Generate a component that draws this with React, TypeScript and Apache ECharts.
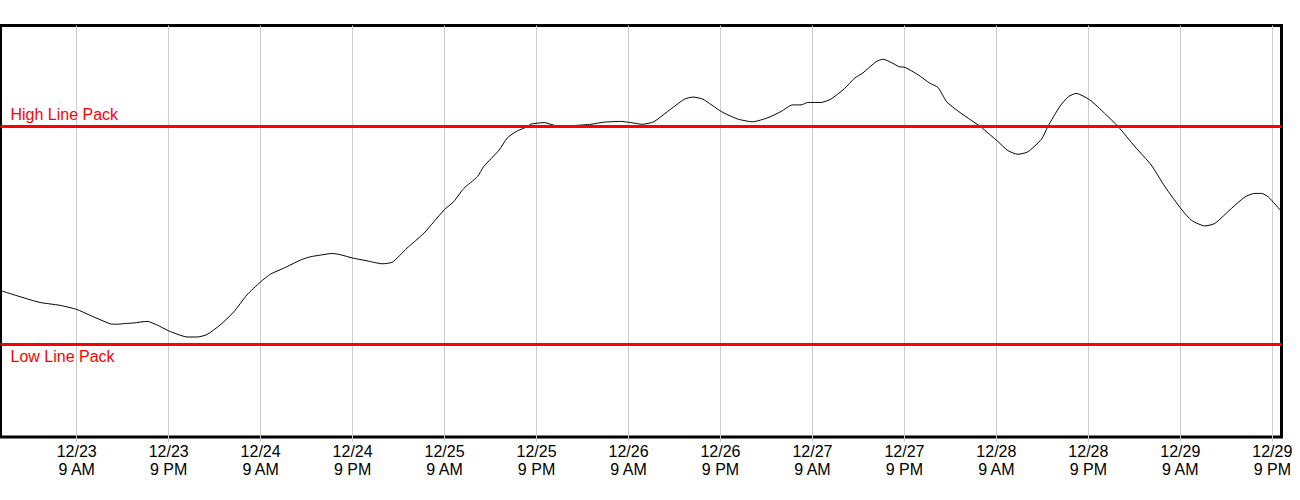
import React, { useEffect, useRef } from "react";
import * as echarts from "echarts";

// Hours since 12/23 00:00
const hours = [
  -0.8, 1.6, 4.2, 6.8, 9.0, 10.7, 13.4, 14.2, 15.5, 16.4, 18.2, 19.5, 21.0, 22.1, 23.4,
  24.7, 26.0, 27.7, 29.5, 31.2, 33.0, 34.3, 36.0, 38.2, 39.5, 40.8, 42.3, 43.4, 45.0,
  46.9, 48.9, 50.2, 52.1, 54.3, 55.6, 57.0, 58.2, 59.5, 61.3, 62.1, 64.1, 65.2, 66.5,
  67.8, 68.2, 70.0, 71.7, 73.9, 76.1, 77.8, 80.0, 81.3, 82.8, 84.3, 86.1, 88.3, 89.4,
  90.7, 93.1, 95.2, 97.2, 99.2, 100.9, 102.4, 103.5, 104.4, 106.1, 107.4, 109.2, 110.5,
  111.6, 113.3, 114.2, 115.3, 116.3, 117.1, 118.8, 120.3, 121.4, 122.5, 124.0, 125.7,
  127.0, 129.2, 130.5, 131.8, 133.1, 134.9, 135.7, 137.3, 138.4, 139.4, 141.2, 143.1,
  144.9, 147.1, 149.2, 151.0, 153.2, 154.5, 156.2, 157.5, 159.7, 161.4, 162.7, 163.6,
  164.5, 166.2,
];

const linePack = [
  35.5, 34.1, 32.7, 32.0, 31.0, 29.6, 27.5, 27.4, 27.6, 27.7, 28.1, 27.2, 25.8, 25.0, 24.3,
  24.3, 24.9, 27.2, 30.4, 34.5, 37.7, 39.6, 41.0, 43.0, 43.8, 44.2, 44.6, 44.3, 43.5,
  42.8, 42.1, 42.5, 45.9, 49.5, 52.3, 55.3, 57.2, 60.4, 63.3, 65.7, 69.7, 72.7, 74.4,
  75.4, 76.0, 76.4, 75.6, 75.7, 76.0, 76.5, 76.7, 76.4, 76.0, 76.6, 79.1, 82.1, 82.6,
  82.1, 79.1, 77.3, 76.6, 77.6, 79.1, 80.7, 80.7, 81.3, 81.3, 82.1, 84.7, 87.2,
  88.5, 91.2, 91.8, 91.0, 90.0, 89.8, 88.0, 86.0, 84.9, 81.5, 79.2, 77.0,
  75.3, 71.8, 69.6, 68.7, 69.3, 72.4, 75.4, 80.4, 82.7, 83.5, 81.9, 78.7,
  75.4, 70.5, 66.1, 60.8, 55.2, 52.6, 51.3, 51.9, 55.6, 58.3, 59.2, 59.2,
  58.3, 54.8,
];

const highLinePack = 75.4;
const lowLinePack = 22.6;

const tickHours = [9, 21, 33, 45, 57, 69, 81, 93, 105, 117, 129, 141, 153, 165];

const formatTick = (val: number) => {
  const day = 23 + Math.floor(val / 24);
  const hr = ((val % 24) + 24) % 24;
  const h12 = hr % 12 === 0 ? 12 : hr % 12;
  const ampm = hr < 12 ? "AM" : "PM";
  return `12/${day}\n${h12} ${ampm}`;
};

export default function App() {
  const ref = useRef<HTMLDivElement>(null);

  useEffect(() => {
    if (!ref.current) return;
    const chart = echarts.init(ref.current, null, { renderer: "svg" });
    const font = "'Liberation Sans', Arial, sans-serif";
    chart.setOption({
      animation: false,
      backgroundColor: "#fff",
      grid: {
        left: 0.5,
        right: 18.5,
        top: 25.5,
        bottom: 63,
        show: true,
        borderColor: "#000",
        borderWidth: 3,
        backgroundColor: "transparent",
        containLabel: false,
      },
      xAxis: {
        type: "value",
        min: -0.94,
        max: 166.2,
        axisLine: { show: false },
        axisTick: {
          show: true,
          length: 5,
          lineStyle: { color: "#cccccc", width: 1 },
          customValues: tickHours,
        },
        axisLabel: {
          show: true,
          customValues: tickHours,
          formatter: formatTick,
          color: "#000",
          fontSize: 16,
          lineHeight: 18,
          margin: 5,
          fontFamily: font,
        },
        splitLine: { show: true, lineStyle: { color: "#cccccc", width: 1 } },
      },
      yAxis: {
        type: "value",
        min: 0,
        max: 100,
        show: false,
        splitLine: { show: false },
      },
      series: [
        {
          type: "line",
          data: hours.map((h, i) => [h, linePack[i]]),
          showSymbol: false,
          symbol: "none",
          smooth: 0.2,
          lineStyle: { color: "#000", width: 1 },
          z: 3,
          markLine: {
            silent: true,
            symbol: "none",
            animation: false,
            lineStyle: { color: "#ff0000", width: 3, type: "solid" },
            data: [
              {
                yAxis: highLinePack,
                label: {
                  show: true,
                  formatter: "High Line Pack",
                  position: "insideStartTop",
                  distance: 4,
                  padding: [0, 0, 0, 6],
                  color: "#ff0000",
                  fontSize: 16,
                  fontFamily: font,
                },
              },
              {
                yAxis: lowLinePack,
                label: {
                  show: true,
                  formatter: "Low Line Pack",
                  position: "insideStartBottom",
                  distance: 4,
                  padding: [0, 0, 0, 6],
                  color: "#ff0000",
                  fontSize: 16,
                  fontFamily: font,
                },
              },
            ],
          },
        },
      ],
    });
    return () => chart.dispose();
  }, []);

  return (
    <div
      ref={ref}
      style={{ position: "fixed", left: 0, top: 0, width: 1300, height: 500, background: "#fff" }}
    />
  );
}
